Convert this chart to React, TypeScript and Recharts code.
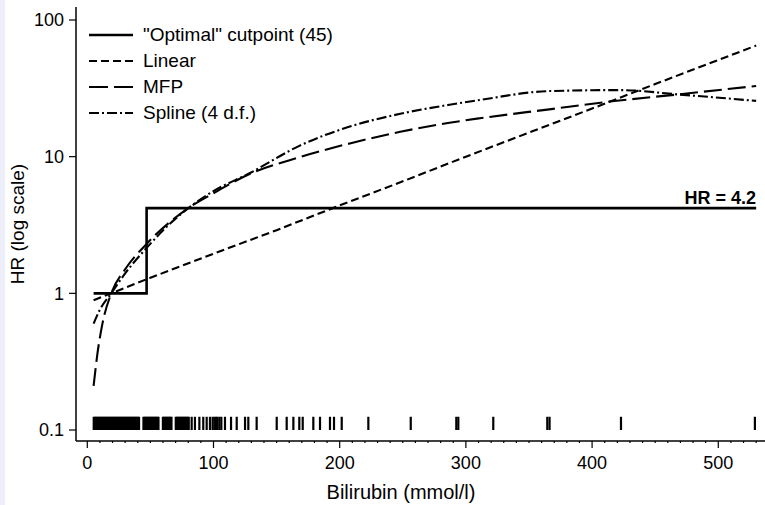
import React from 'react';
import { LineChart, Line, XAxis, YAxis, ReferenceLine, ReferenceDot, Legend } from 'recharts';

const FONT = '"Liberation Sans", Arial, Helvetica, sans-serif';

// ---- data ----
const cutpointX = [5, 47, 47, 530];
const cutpointHR = [1, 1, 4.2, 4.2];

const linearX = [5, 50, 100, 150, 200, 250, 300, 350, 400, 450, 500, 530];
const linearHR = [0.89, 1.3, 1.95, 2.9, 4.4, 6.6, 10, 15, 22.5, 34, 51, 65];

const mfpX = [5, 8, 12, 19, 30, 47, 65, 80, 100, 129, 168, 208, 248, 287, 311, 366, 414, 469, 530];
const mfpHR = [0.21, 0.36, 0.6, 1.0, 1.5, 2.3, 3.3, 4.2, 5.4, 7.5, 9.9, 12.5, 15.2, 17.7, 19.1, 22.2, 25.3, 28.6, 32.9];

const splineX = [5, 10, 19, 30, 47, 65, 80, 100, 129, 168, 208, 248, 287, 311, 366, 422, 469, 530];
const splineHR = [0.6, 0.76, 1.0, 1.4, 2.15, 3.2, 4.2, 5.6, 7.6, 12, 16.6, 20.6, 24, 26, 30.2, 30.7, 28.5, 25.6];

const rugValues = [
  5.1, 6.0, 6.8, 7.7, 8.5, 9.4, 10.3, 11.1, 12.0, 12.8, 13.7, 14.5, 15.4, 16.2, 17.1, 18.0, 18.8,
  19.7, 20.5, 21.4, 22.2, 23.1, 23.9, 24.8, 25.7, 26.5, 27.4, 28.2, 29.1, 29.9, 30.8, 31.6,
  32.5, 33.3, 34.2, 35.1, 35.9, 36.8, 37.6, 38.5, 39.3, 40.2, 41.0, 44.5, 45.3, 46.2, 47.0,
  47.9, 48.7, 49.6, 50.4, 51.3, 52.1, 53.0, 53.9, 54.7, 55.6, 56.4, 59.9, 60.7, 61.6, 62.4,
  63.3, 64.1, 65.0, 65.8, 66.7, 70.1, 71.0, 71.8, 72.7, 73.5, 74.4, 75.2, 76.1, 77.0, 77.8, 78.7, 79.5, 80.4,
  82.7, 85.3, 88.8, 91.9, 94.6, 97.2, 99.3, 100.7, 102, 103, 104.6, 106.2, 109.1, 113.9, 118.4,
  125, 127.6, 134.2, 150.1, 158, 163.3, 168, 170.7, 179.1, 184.4, 192.3, 195.5, 201.6,
  222.7, 256.3, 292.4, 294, 321.7, 364.5, 366.3, 422.9, 529,
];
const rugLow = 0.1;
const rugHigh = 0.125;

const xMajorTicks = [0, 100, 200, 300, 400, 500];
const yTicks = [0.1, 1, 10, 100];
const hrLabel = 'HR = 4.2';
const hrLabelX = 530;
const hrLabelY = 4.2;

const xDomain: [number, number] = [-8.95, 548.9];
const yDomain: [number, number] = [0.0831, 124.5];

const toPoints = (xs: number[], ys: number[]) => xs.map((x, i) => ({ x, hr: ys[i] }));

const series = [
  { name: '"Optimal" cutpoint (45)', data: toPoints(cutpointX, cutpointHR), dash: undefined, legendDash: undefined, width: 2.6, type: 'linear' },
  { name: 'Linear', data: toPoints(linearX, linearHR), dash: '8 4', legendDash: '8 4', width: 2.1, type: 'linear' },
  { name: 'MFP', data: toPoints(mfpX, mfpHR), dash: '18 6', legendDash: '19 6', width: 2.1, type: 'monotone' },
  { name: 'Spline (4 d.f.)', data: toPoints(splineX, splineHR), dash: '10 3 2 3', legendDash: '10 3 2 3', width: 2.1, type: 'monotone' },
];

const xMinorTicks: number[] = [];
for (let t = 10; t <= 540; t += 10) if (t % 100 !== 0) xMinorTicks.push(t);
const xAllTicks = [...xMajorTicks, ...xMinorTicks].sort((a, b) => a - b);

const XTick = (props: any) => {
  const { x, y, payload } = props;
  const major = payload.value % 100 === 0;
  return (
    <g>
      <line x1={x} x2={x} y1={y} y2={y + (major ? 7 : 2)} stroke="#000" strokeWidth={1.2} />
      {major && (
        <text x={x} y={y + 28} textAnchor="middle" fontSize={18} fill="#000" fontFamily={FONT}>
          {payload.value}
        </text>
      )}
    </g>
  );
};

const renderLegend = () => (
  <div style={{ fontFamily: FONT }}>
    {series.map((s) => (
      <div key={s.name} style={{ display: 'flex', alignItems: 'center', height: 26 }}>
        <svg width={44} height={26} style={{ display: 'block' }}>
          <line x1={0} x2={44} y1={13} y2={13} stroke="#000" strokeWidth={s.width} strokeDasharray={s.legendDash} />
        </svg>
        <span style={{ marginLeft: 10, fontSize: 19, color: '#000', whiteSpace: 'nowrap', lineHeight: '26px' }}>{s.name}</span>
      </div>
    ))}
  </div>
);

const YTitle = (p: any) => {
  const vb = p.viewBox || { x: 0, y: 7, width: 76, height: 434 };
  const cx = vb.x + 17;
  const cy = vb.y + vb.height / 2;
  return (
    <text x={cx} y={cy} transform={`rotate(-90 ${cx} ${cy})`} textAnchor="middle" dominantBaseline="central" fontSize={19} fill="#000" fontFamily={FONT}>
      HR (log scale)
    </text>
  );
};

const XTitle = (p: any) => {
  const vb = p.viewBox || { x: 76, y: 441, width: 704, height: 64 };
  return (
    <text x={vb.x + vb.width / 2 - 27} y={vb.y + 58} textAnchor="middle" fontSize={20} fill="#000" fontFamily={FONT}>
      Bilirubin (mmol/l)
    </text>
  );
};

const HRText = (p: any) => {
  const vb = p.viewBox || { x: 756, y: 208 };
  return (
    <text x={vb.x} y={vb.y - 4} textAnchor="end" fontSize={18} fontWeight="bold" fill="#000" fontFamily={FONT}>
      {hrLabel}
    </text>
  );
};

export default function App() {
  return (
    <div style={{ position: 'absolute', left: 0, top: 0, width: 765, height: 505, overflow: 'hidden', background: '#fff' }}>
      <div style={{ position: 'absolute', left: 0, top: 0, width: 5, height: 505, background: '#eeeefa' }} />
      <div style={{ position: 'absolute', left: 0, top: 0 }}>
        <LineChart width={780} height={505} margin={{ top: 7, right: 0, bottom: 0, left: 0 }} style={{ fontFamily: FONT }}>
          <XAxis
            dataKey="x"
            type="number"
            domain={xDomain}
            allowDataOverflow
            ticks={xAllTicks}
            interval={0}
            tickSize={0}
            tickMargin={0}
            tickLine={false}
            tick={(props: any) => <XTick {...props} />}
            height={64}
            axisLine={{ stroke: '#000', strokeWidth: 1.5 }}
            label={{ content: (p: any) => <XTitle {...p} /> }}
          />
          <XAxis
            xAxisId="top"
            orientation="top"
            type="number"
            domain={xDomain}
            allowDataOverflow
            height={0}
            tick={false}
            tickLine={false}
            axisLine={{ stroke: '#555', strokeWidth: 2.2 }}
          />
          <YAxis
            type="number"
            scale="log"
            domain={yDomain}
            allowDataOverflow
            ticks={yTicks}
            interval={0}
            tickFormatter={(v: number) => String(v)}
            width={76}
            tickSize={7}
            tickMargin={5}
            tickLine={{ stroke: '#000', strokeWidth: 1.2 }}
            axisLine={{ stroke: '#000', strokeWidth: 1.5 }}
            tick={{ fontSize: 18, fill: '#000', fontFamily: FONT }}
            label={{ content: (p: any) => <YTitle {...p} /> }}
          />
          <Legend
            layout="horizontal"
            verticalAlign="middle"
            align="center"
            content={renderLegend}
            wrapperStyle={{ top: 22, left: 89, width: 330, height: 104 }}
          />
          {rugValues.map((v, i) => (
            <ReferenceLine
              key={`rug-${i}`}
              segment={[{ x: v, y: rugLow }, { x: v, y: rugHigh }]}
              stroke="#000"
              strokeWidth={2.2}
              ifOverflow="visible"
            />
          ))}
          {series.map((s) => (
            <Line
              key={s.name}
              data={s.data}
              dataKey="hr"
              name={s.name}
              type={s.type as any}
              stroke="#000"
              strokeWidth={s.width}
              strokeDasharray={s.dash}
              dot={false}
              activeDot={false}
              isAnimationActive={false}
            />
          ))}
          <ReferenceDot
            x={hrLabelX}
            y={hrLabelY}
            r={0}
            fill="none"
            stroke="none"
            ifOverflow="visible"
            label={{ content: (p: any) => <HRText {...p} /> }}
          />
        </LineChart>
      </div>
    </div>
  );
}
